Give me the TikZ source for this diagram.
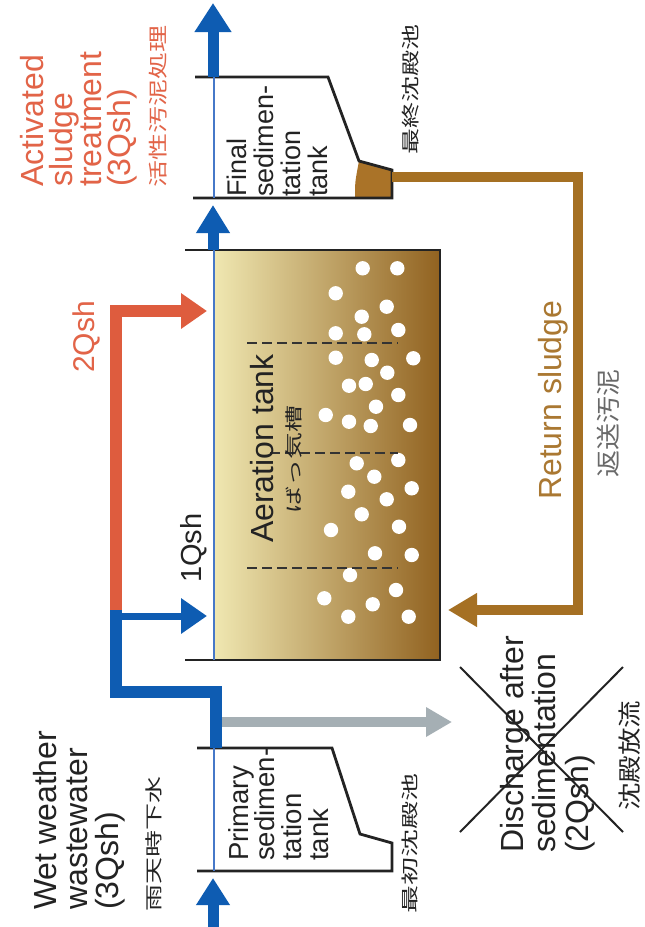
\documentclass[tikz,border=0pt]{standalone}
\usepackage{graphicx}
\usepackage{fontspec}
\setmainfont{Liberation Sans}
\newfontfamily\jpfont{Noto Sans CJK JP}
\usetikzlibrary{arrows.meta}
\definecolor{pipeblue}{RGB}{14,92,178}
\definecolor{thinblue}{RGB}{70,120,200}
\definecolor{pipered}{RGB}{222,92,62}
\definecolor{redtext}{RGB}{226,100,72}
\definecolor{pipebrown}{RGB}{165,112,35}
\definecolor{browntext}{RGB}{170,120,50}
\definecolor{pipegray}{RGB}{165,175,180}
\definecolor{tankL}{RGB}{240,232,178}
\definecolor{tankM}{RGB}{198,160,78}
\definecolor{tankR}{RGB}{145,98,32}
\definecolor{sludge}{RGB}{170,115,40}
\definecolor{txtblack}{RGB}{35,35,35}
\definecolor{jgray}{RGB}{105,105,105}
\begin{document}
\begin{tikzpicture}[x=1pt,y=1pt,
  lbl/.style={rotate=90, inner sep=0pt, anchor=north west, align=left, text=txtblack},
  bigfont/.style={font=\fontsize{32}{31}\selectfont},
  midfont/.style={font=\fontsize{27.5}{26.7}\selectfont},
  jfont/.style={font=\fontsize{27}{27}\jpfont},
  tankline/.style={draw=txtblack, line width=2.8pt, line join=miter},
  thinline/.style={draw=thinblue, line width=1.6pt},
  bubble/.style={fill=white},
  sep/.style={draw=black!80, line width=1.6pt, dash pattern=on 10pt off 5pt}
]
\fill[white] (0,0) rectangle (645,-927);
\useasboundingbox (0,0) rectangle (645,-927);

% ---------- aeration tank body ----------
\shade[left color=tankL, middle color=tankM, right color=tankR] (213,-250) rectangle (440,-660);
\foreach \bx/\by in {362.7/268.3,397.3/268.3,335.7/293.3,386.7/306.7,361.7/316.7,335.7/333.3,
  364.3/334.3,398.3/330,335.7/357.7,371.7/360,413.3/358.3,387.3/372.7,349/385.7,365.7/384,
  398.3/395,376/406.7,325.7/415,349/421.7,370.7/426,410/425,356.7/463.3,398.3/460,374.3/476.7,
  348.3/491.7,386.7/499.3,411.7/488.3,361.7/514.3,331/530,399/526.7,375/553.3,411.7/555,
  350/575,396/590,324.3/598.3,372.7/604.3,348.3/616.7,408.7/616.7}
  \fill[bubble] (\bx,-\by) circle (7.2);
\draw[sep] (247,-343) -- (398,-343);
\draw[sep] (270,-453) -- (398,-453);
\draw[sep] (247,-568) -- (398,-568);
\draw[tankline] (185,-250) -- (440,-250) -- (440,-660) -- (185,-660);

% ---------- final sedimentation tank ----------
\fill[sludge] (359,-161) -- (392,-170) -- (392,-198) -- (355,-198) .. controls (355,-182) .. cycle;
\draw[tankline] (195,-77) -- (328,-77) -- (359,-161) -- (392,-170) -- (392,-198) -- (193,-198);

% ---------- primary sedimentation tank ----------
\draw[tankline] (197,-748) -- (332,-748) -- (360,-834) -- (392,-843) -- (392,-871) -- (197,-871);

% ---------- thin blue flow line ----------
\draw[thinline] (214,-871) -- (214,-748);
\draw[thinline] (214,-660) -- (214,-250);
\draw[thinline] (214,-198) -- (214,-77);

% ---------- named points ----------
\coordinate (inBot) at (213,-927);
\coordinate (inTip) at (213,-878);
\coordinate (pTop) at (216,-748);
\coordinate (bA) at (216,-692);
\coordinate (bB) at (116,-692);
\coordinate (bC) at (116,-610);
\coordinate (bCa) at (110,-616);
\coordinate (q1Tip) at (207,-616);
\coordinate (rBend) at (116,-311);
\coordinate (q2Tip) at (207,-311);
\coordinate (aerTop) at (213,-250);
\coordinate (finIn) at (213,-205);
\coordinate (finTop) at (213,-77);
\coordinate (outTip) at (213,-3);
\coordinate (grayS) at (222,-722);
\coordinate (grayT) at (452,-722);
\coordinate (rsS) at (392,-177);
\coordinate (rsA) at (578,-177);
\coordinate (rsB) at (578,-610);
\coordinate (rsT) at (448,-610);

% ---------- pipes ----------
\draw[pipegray, line width=10pt, -{Triangle[length=26pt,width=28pt]}] (grayS) -- (grayT);
\draw[pipered, line width=12pt, line join=miter, -{Triangle[length=26pt,width=34pt]}] (bC) -- (rBend) -- (q2Tip);
\draw[pipeblue, line width=12pt, line join=miter] (pTop) -- (bA) -- (bB) -- (bC);
\draw[pipeblue, line width=7pt, -{Triangle[length=26pt,width=34pt]}] (bCa) -- (q1Tip);
\draw[pipeblue, line width=11pt, -{Triangle[length=27pt,width=32pt]}] (inBot) -- (inTip);
\draw[pipeblue, line width=11pt, -{Triangle[length=28pt,width=32pt]}] (aerTop) -- (finIn);
\draw[pipeblue, line width=11pt, -{Triangle[length=29pt,width=35pt]}] (finTop) -- (outTip);
\draw[pipebrown, line width=10pt, line join=miter, -{Triangle[length=29pt,width=32pt]}] (rsS) -- (rsA) -- (rsB) -- (rsT);

% ---------- crossed-out discharge ----------
\draw[txtblack, line width=2pt] (460,-667) -- (623,-832);
\draw[txtblack, line width=2pt] (623,-667) -- (460,-832);

% ---------- labels ----------
\node[lbl, bigfont] (wet) at (33,-910) {Wet weather\\wastewater\\(3Qsh)};
\node[lbl, jfont] (wetj) at (146,-912) {\scalebox{1}[0.65]{雨天時下水}};
\node[lbl, bigfont, text=redtext, font=\fontsize{32}{29}\selectfont] (act) at (20,-187) {Activated\\sludge\\treatment\\(3Qsh)};
\node[lbl, jfont, text=redtext] (actj) at (149,-188) {\scalebox{1}[0.72]{活性汚泥処理}};
\node[lbl, font=\fontsize{30}{30}\selectfont, text=redtext] (q2) at (73,-373) {2Qsh};
\node[lbl, font=\fontsize{29}{29}\selectfont] (q1) at (180,-583) {1Qsh};
\node[lbl, bigfont] (aer) at (250,-543) {Aeration tank};
\node[lbl, jfont] (aerj) at (286,-514) {\scalebox{1}[0.65]{ばっ気槽}};
\node[lbl, midfont] (prim) at (228,-861) {Primary\\sedimen-\\tation\\tank};
\node[lbl, jfont, font=\fontsize{28}{28}\jpfont] (primj) at (402,-914) {\scalebox{1}[0.62]{最初沈殿池}};
\node[lbl, font=\fontsize{27}{27}\selectfont] (fin) at (227,-197) {Final\\sedimen-\\tation\\tank};
\node[lbl, jfont, font=\fontsize{26}{26}\jpfont] (finj) at (402,-155) {\scalebox{1}[0.7]{最終沈殿池}};
\node[lbl, bigfont, text=browntext] (ret) at (538,-500) {Return sludge};
\node[lbl, jfont, text=jgray] (retj) at (597,-478) {\scalebox{1}[0.9]{返送汚泥}};
\node[lbl, font=\fontsize{32}{32.5}\selectfont] (dis) at (500,-853) {Discharge after\\sedimentation\\(2Qsh)};
\node[lbl, jfont, font=\fontsize{27.5}{27.5}\jpfont] (disj) at (619,-811) {\scalebox{1}[0.85]{沈殿放流}};
\end{tikzpicture}
\end{document}
